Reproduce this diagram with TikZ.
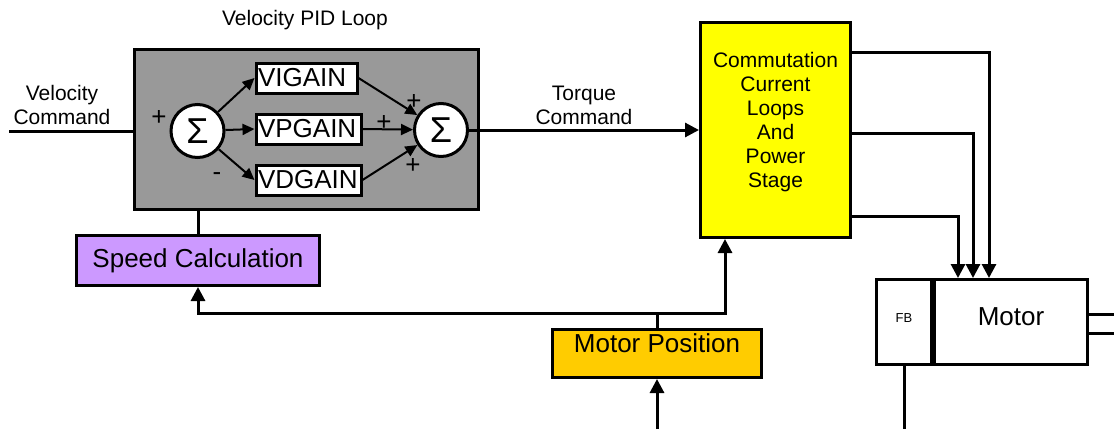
\documentclass[tikz,border=0pt]{standalone}
\usepackage{fontspec}
\setmainfont{Liberation Sans}
\usepackage{xcolor}
\usetikzlibrary{arrows.meta,positioning,calc}
\definecolor{grisbloque}{RGB}{153,153,153}
\definecolor{amarillo}{RGB}{255,255,0}
\definecolor{lila}{RGB}{204,153,255}
\definecolor{naranja}{RGB}{255,204,0}
\newcommand{\letragrande}{\fontsize{26}{30}\selectfont}
\newcommand{\letrachica}{\fontsize{21}{24}\selectfont}
\newcommand{\letrasuma}{\fontsize{36}{40}\selectfont}

\begin{document}
\begin{tikzpicture}[x=1pt, y=-1pt,
    caja/.style={rectangle, draw=black, line width=3pt, inner sep=0pt,
                 font=\letragrande},
    ganancia/.style={caja, fill=white, minimum height=30pt,
                     inner xsep=2pt, align=left},
    suma/.style={circle, draw=black, fill=white, line width=3pt,
                 minimum size=53pt, inner sep=0pt, font=\letrasuma},
    signo/.style={font=\letragrande, inner sep=0pt},
    flecha/.style={-{Triangle[length=14pt,width=14pt]}, line width=3pt},
    flechita/.style={-{Triangle[length=12pt,width=11pt]}, line width=2pt},
    linea/.style={line width=3pt}
  ]
    \useasboundingbox (0,0) rectangle (1114,429);

    % lazo PID de velocidad
    \node[caja, fill=grisbloque, minimum width=344pt, minimum height=160pt] (pid) at (306.5,129.5) {};
    \node[font=\letrachica] (titulo) at (305,20) {Velocity PID Loop};
    \node[suma] (suma1) at (197.5,131) {Σ};
    \node[ganancia, anchor=west, minimum width=105pt, text width=101pt] (ganP) at (254.5,129) {VPGAIN};
    \node[ganancia, minimum width=101pt, text width=97pt,
          above=18pt of ganP.north west, anchor=south west] (ganI) {VIGAIN};
    \node[ganancia, minimum width=105pt, text width=101pt,
          below=18pt of ganP.south west, anchor=north west] (ganD) {VDGAIN};
    \node[suma] (suma2) at (441,130) {Σ};

    \node[signo] (mas1) at (159,118) {+};
    \node[signo] (menos1) at (217,177) {-};
    \node[signo] (mas2) at (414,102) {+};
    \node[signo] (mas3) at (384,123) {+};
    \node[signo] (mas4) at (413,166) {+};

    % bloques
    \node[caja, fill=amarillo, minimum width=150pt, minimum height=215pt,
          label={[font=\letrachica, align=center, yshift=8pt]center:Commutation\\Current\\Loops\\And\\Power\\Stage}] (potencia) at (775.5,130) {};
    \node[caja, fill=lila, minimum width=243pt, minimum height=50pt] (velocidad) at (198,260.5) {Speed Calculation};
    \node[caja, fill=naranja, minimum width=209pt, minimum height=48pt,
          label={[font=\letragrande, yshift=10pt]center:Motor Position}] (posicion) at (657,353.5) {};
    \node[caja, fill=white, minimum width=153pt, minimum height=85pt, text depth=10pt] (motor) at (1011,322) {Motor};
    \node[caja, fill=white, font=\fontsize{13}{15}\selectfont, minimum width=55pt, minimum height=85pt,
          text depth=8pt, left=0pt of motor] (fb) {FB};
    \draw[line width=5pt] (fb.north east) -- (fb.south east);

    % entrada
    \node[font=\letrachica, align=center] (vcmd) at (62,105) {Velocity\\Command};
    \coordinate (entrada) at (9,131);
    \draw[linea] (entrada) -- (entrada -| pid.west);

    % conexiones internas
    \draw[flechita] (suma1) -- (ganI.west);
    \draw[flechita] (suma1) -- (ganP.west);
    \draw[flechita] (suma1) -- (ganD.west);
    \draw[flechita] (ganI.east) -- (suma2);
    \draw[flechita] (ganP.east) -- (suma2);
    \draw[flechita] (ganD.east) -- (suma2);

    \draw[flecha] (suma2.east) -- (suma2.east -| potencia.west)
        node[midway, above, font=\letrachica, align=center] {Torque\\Command};

    % salidas al motor
    \draw[flecha] ([yshift=78pt]potencia.east) -| ([xshift=56pt]motor.north west);
    \draw[flecha] ([yshift=-3pt]potencia.east) -| ([xshift=40pt]motor.north west);
    \draw[flecha] ([yshift=-86pt]potencia.east) -| ([xshift=25pt]motor.north west);
    \draw[linea] ([yshift=8pt]motor.east) -- ++(26,0);
    \draw[linea] ([yshift=-11pt]motor.east) -- ++(26,0);

    % realimentacion
    \coordinate (rama) at (657,313);
    \coordinate (sensor) at (657,429);
    \draw[linea] (velocidad.north) -- (velocidad.north |- pid.south);
    \draw[linea] (posicion.north) -- (rama);
    \draw[flecha] (rama) -| (velocidad.south);
    \draw[flecha] (rama) -| ([xshift=26pt]potencia.south west);
    \draw[flecha] (sensor) -- (posicion.south);
    \draw[linea] (fb.south) -- (fb.south |- sensor);
  \end{tikzpicture}
\end{document}
